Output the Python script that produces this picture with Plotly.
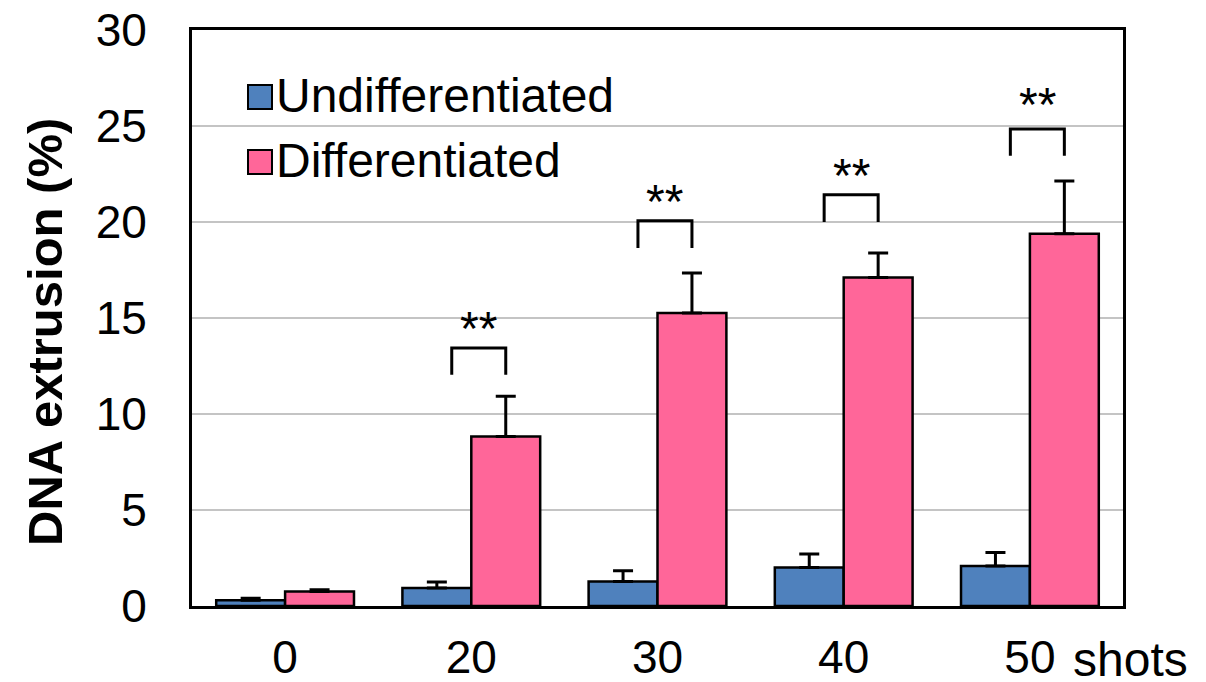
import plotly.graph_objects as go

categories = ["0", "20", "30", "40", "50"]
undiff = [0.3, 0.94, 1.27, 2.0, 2.08]
undiff_err = [0.1, 0.31, 0.56, 0.71, 0.71]
diff = [0.75, 8.83, 15.26, 17.11, 19.39]
diff_err = [0.1, 2.09, 2.08, 1.28, 2.74]
y_ticks = [0, 5, 10, 15, 20, 25, 30]

sig_cats = [1, 2, 3, 4]
sig_top = [13.44, 20.07, 21.42, 24.84]
sig_bottom = [12.05, 18.65, 20.0, 23.45]
sig_star_y = [14.45, 21.05, 22.4, 26.1]
sig_label = "**"

FONT = "Liberation Sans, Arial, sans-serif"
BLUE = "#4F81BD"
PINK = "#FF6699"
BW = 0.37

xs = list(range(len(categories)))
fig = go.Figure()
fig.add_trace(go.Bar(
    x=xs, y=undiff, width=BW, offset=-BW, name="Undifferentiated",
    marker=dict(color=BLUE, line=dict(color="black", width=2.5)),
    error_y=dict(type="data", array=undiff_err, symmetric=False,
                 arrayminus=[0] * len(undiff), color="black", thickness=3, width=10),
    showlegend=False))
fig.add_trace(go.Bar(
    x=xs, y=diff, width=BW, offset=0, name="Differentiated",
    marker=dict(color=PINK, line=dict(color="black", width=2.5)),
    error_y=dict(type="data", array=diff_err, symmetric=False,
                 arrayminus=[0] * len(diff), color="black", thickness=3, width=10),
    showlegend=False))

# significance brackets
for c, t, b, s in zip(sig_cats, sig_top, sig_bottom, sig_star_y):
    left = c - 0.105
    right = c + BW / 2
    fig.add_trace(go.Scatter(x=[left, left, right, right], y=[b, t, t, b],
                             mode="lines", line=dict(color="black", width=3),
                             showlegend=False, hoverinfo="skip"))
    fig.add_annotation(x=(left + right) / 2, y=s, xref="x", yref="y",
                       text=sig_label, showarrow=False, yanchor="middle",
                       font=dict(family=FONT, size=48, color="black"))

# page has an 8px body margin; figure coordinates are screenshot - 8
OFF = 8
W, H = 1206 - OFF, 682 - OFF
L, T = 192 - OFF, 30 - OFF
R = W - (1123 - OFF)
B = H - (606 - OFF)
pw, ph = W - L - R, H - T - B

def px(xp):
    return (xp - OFF - L) / pw

def py(yp):
    return (H - B - (yp - OFF)) / ph

# manual legend
legend = [("Undifferentiated", BLUE, 97), ("Differentiated", PINK, 162)]
for name, col, yc in legend:
    fig.add_shape(type="rect", xref="paper", yref="paper",
                  x0=px(248), x1=px(272), y0=py(yc - 12), y1=py(yc + 12),
                  fillcolor=col, line=dict(color="black", width=2))
    fig.add_annotation(x=px(274), y=py(yc - 2), xref="paper", yref="paper",
                       text=name, showarrow=False, xanchor="left", yanchor="middle",
                       font=dict(family=FONT, size=48, color="black"))

fig.add_annotation(x=px(1071), y=py(659), xref="paper", yref="paper",
                   text="shots", showarrow=False, xanchor="left", yanchor="middle",
                   font=dict(family=FONT, size=48, color="black"))

fig.add_annotation(x=px(45), y=py(332), xref="paper", yref="paper",
                   text="<b>DNA extrusion (%)</b>", showarrow=False, textangle=-90,
                   xanchor="center", yanchor="middle",
                   font=dict(family=FONT, size=49, color="black"))

fig.update_layout(
    width=W, height=H, margin=dict(l=L, r=R, t=T, b=B, autoexpand=False),
    plot_bgcolor="white", paper_bgcolor="white", barmode="overlay",
    font=dict(family=FONT, color="black"),
)
fig.update_xaxes(range=[-0.5, 4.5], tickvals=xs, ticktext=categories,
                 showgrid=False, zeroline=False, showline=True, mirror=True,
                 linecolor="black", linewidth=3, ticks="", automargin=False,
                 ticklabeloverflow="allow",
                 tickfont=dict(family=FONT, size=46), ticklabelstandoff=9)
fig.update_yaxes(range=[0, 30], tickvals=y_ticks, showgrid=True,
                 gridcolor="#c4c4c4", gridwidth=2, zeroline=False,
                 showline=True, mirror=True, linecolor="black", linewidth=3,
                 ticks="", automargin=False, ticklabeloverflow="allow",
                 tickfont=dict(family=FONT, size=46), ticklabelstandoff=33)

fig.write_html("out.html")
